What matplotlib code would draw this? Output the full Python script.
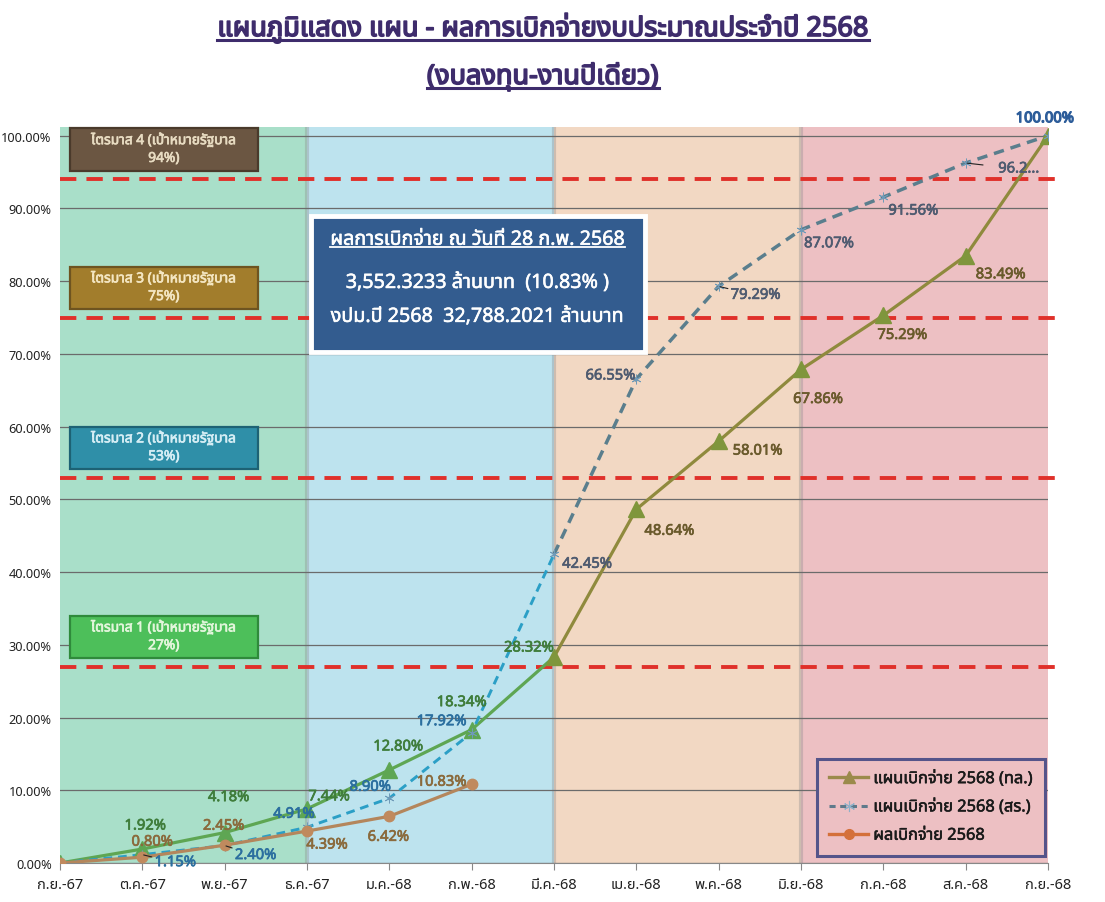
import matplotlib
matplotlib.use("Agg")
import matplotlib.pyplot as plt
import matplotlib.transforms as mtrans
import matplotlib.patheffects as pe
from matplotlib import font_manager as fm
from matplotlib.patches import Rectangle
from matplotlib.lines import Line2D

# ---------------- data ----------------
months = ["ก.ย.-67", "ต.ค.-67", "พ.ย.-67", "ธ.ค.-67", "ม.ค.-68", "ก.พ.-68", "มี.ค.-68",
          "เม.ย.-68", "พ.ค.-68", "มิ.ย.-68", "ก.ค.-68", "ส.ค.-68", "ก.ย.-68"]
plan_tl = [0.00, 1.92, 4.18, 7.44, 12.80, 18.34, 28.32, 48.64, 58.01, 67.86, 75.29, 83.49, 100.00]
plan_sr = [0.00, 1.15, 2.40, 4.91, 8.90, 17.92, 42.45, 66.55, 79.29, 87.07, 91.56, 96.25, 100.00]
actual = [0.00, 0.80, 2.45, 4.39, 6.42, 10.83]
series_names = ["แผนเบิกจ่าย 2568 (ทล.)", "แผนเบิกจ่าย 2568 (สร.)", "ผลเบิกจ่าย 2568"]
quarter_targets = [27, 53, 75, 94]
quarter_names = ["ไตรมาส 1 (เป้าหมายรัฐบาล\n27%)", "ไตรมาส 2 (เป้าหมายรัฐบาล\n53%)",
                 "ไตรมาส 3 (เป้าหมายรัฐบาล\n75%)", "ไตรมาส 4 (เป้าหมายรัฐบาล\n94%)"]
title_lines = ["แผนภูมิแสดง แผน - ผลการเบิกจ่ายงบประมาณประจำปี 2568", "(งบลงทุน-งานปีเดียว)"]
info_lines = ["ผลการเบิกจ่าย ณ วันที่ 28 ก.พ. 2568",
              "3,552.3233 ล้านบาท  (10.83% )",
              "งปม.ปี 2568  32,788.2021 ล้านบาท"]
yticks = [0, 10, 20, 30, 40, 50, 60, 70, 80, 90, 100]

# ---------------- font with Thai glyphs ----------------
def find_thai_font():
    try:
        from fontTools.ttLib import TTFont
    except Exception:
        return None
    prefs = ["Tahoma", "Leelawadee UI", "Leelawadee", "Noto Sans Thai", "Noto Sans Thai UI",
             "Noto Sans Thai Looped", "Sarabun", "Loma", "Garuda", "Waree", "Tlwg Typo", "Umpush",
             "Kinnari", "Norasi", "Sawasdee", "Laksaman", "FreeSans", "Arial Unicode MS"]
    found = {}
    for f in fm.fontManager.ttflist:
        if f.name in found:
            continue
        try:
            tt = TTFont(f.fname, fontNumber=0, lazy=True)
            cmap = tt.getBestCmap()
            if cmap and 0x0E01 in cmap and 0x0E48 in cmap:
                found[f.name] = f.fname
        except Exception:
            pass
    for p in prefs:
        if p in found:
            return p
    if found:
        return sorted(found)[0]
    return None

thai = find_thai_font()
fam = [thai, "DejaVu Sans"] if thai else ["DejaVu Sans"]
plt.rcParams["font.family"] = fam

def thick(col, w=0.6):
    return [pe.withStroke(linewidth=w, foreground=col)]

W, H = 1105, 903
fig = plt.figure(figsize=(W / 100, H / 100), dpi=100)
ax = fig.add_axes([60 / W, 1 - 864 / H, (1048 - 60) / W, (864 - 128) / H])

n = len(months)
x = list(range(n))
ax.set_xlim(0, n - 1)
ax.set_ylim(0, 101.2)

# quarter bands
band_cols = ["#a9dfc9", "#bde3ee", "#f2d8c3", "#edc0c3"]
for i, c in enumerate(band_cols):
    ax.axvspan(3 * i, 3 * (i + 1), color=c, zorder=0, lw=0)
for b in [3, 6, 9]:
    ax.axvline(b, color="#8a8a8a", alpha=0.35, lw=3, zorder=0.5)

# grid
for t in yticks:
    ax.axhline(t, color="#6b6b6b", lw=0.9, zorder=1)
ax.set_yticks(yticks)
ax.set_yticklabels([f"{t:.2f}%" for t in yticks], fontsize=9.2, color="#222222")
ax.set_xticks(x)
ax.set_xticklabels(months, fontsize=10.5, color="#222222")
ax.tick_params(axis="y", length=0, pad=6)
ax.tick_params(axis="x", length=5, color="#888888", direction="out", pad=5)
for s in ["top", "right", "left"]:
    ax.spines[s].set_visible(False)
ax.spines["bottom"].set_color("#888888")

# target lines
for t in quarter_targets:
    ax.plot([0, n - 1 + 0.15], [t, t], color="#e0302a", lw=2.8, ls=(0, (4.2, 2.6)),
            zorder=2, clip_on=False)

# series 1 (ทล.)
g1, o1 = "#5ea653", "#8f8a3d"
ax.plot(x[:7], plan_tl[:7], color=g1, lw=2.3, zorder=4)
ax.plot(x[6:], plan_tl[6:], color=o1, lw=2.3, zorder=4)
ax.plot(x[:6], plan_tl[:6], ls="none", marker="^", ms=11, color=g1, zorder=5)
ax.plot(x[6:], plan_tl[6:], ls="none", marker="^", ms=11, color="#7f963c", zorder=5)

# series 2 (สร.)
b2, s2 = "#2b9fc6", "#5a7e8d"
ax.plot(x[:7], plan_sr[:7], color=b2, lw=2.1, ls=(0, (3, 2)), zorder=4)
ax.plot(x[6:], plan_sr[6:], color=s2, lw=2.5, ls=(0, (3, 2)), zorder=4)
ax.plot(x, plan_sr, ls="none", marker=(6, 2, 0), ms=7, mew=0.6, color="#6f9ab8", zorder=5)

# series 3 (ผล)
ax.plot(x[:len(actual)], actual, color="#b4865c", lw=2.3, marker="o", ms=7.5,
        mfc="#c08a5e", mec="#c08a5e", zorder=6)

# data labels (offsets in pixels, y up)
def lab(xi, yi, txt, dx, dy, col, leader=False, fs=10.6, big=False):
    ax.annotate(txt, (xi, yi), xytext=(dx, dy), textcoords="offset pixels",
                ha="center", va="center", fontsize=fs, color=col, zorder=8,
                path_effects=thick(col, 0.9 if big else 0.5),
                arrowprops=dict(arrowstyle="-", color="#222222", lw=0.8,
                                shrinkA=9, shrinkB=1) if leader else None)

c1g, c1o = "#3f7d3b", "#6a5a2c"
tl_off = [None, (3, 23), (4, 35), (22, 12), (9, 23), (-10, 27), (-25, 9),
          (33, -22), (39, -10), (17, -30), (19, -20), (35, -19), None]
for i, v in enumerate(plan_tl):
    if tl_off[i] is None:
        continue
    lab(i, v, f"{v:.2f}%", *tl_off[i], c1g if i <= 6 else c1o)

c2b, c2s = "#2b6f9f", "#4f5b70"
sr_off = [None, (33, -8), (31, -10), (-13, 13), (-19, 11), (-30, 11), (33, -10),
          (-26, 3), (37, -9), (28, -14), (30, -14), (53, -6), (-3, 17)]
sr_lead = [False, True, True, False, False, False, False, False, True, False, False, True, False]
for i, v in enumerate(plan_sr):
    if sr_off[i] is None:
        continue
    txt = f"{v:.2f}%" if i != 11 else f"{v:.1f}..."
    col = c2b if i <= 5 else c2s
    if i == 12:
        col = "#2d5d9a"
    lab(i, v, txt, *sr_off[i], col, sr_lead[i], big=(i == 12))

c3 = "#8a6a3c"
ac_off = [None, (10, 15), (-1, 19), (20, -14), (-1, -21), (-30, 2)]
for i, v in enumerate(actual):
    if ac_off[i] is None:
        continue
    lab(i, v, f"{v:.2f}%", *ac_off[i], c3)

# quarter boxes
qface = ["#4dbf5a", "#2f8fa8", "#a27d2c", "#6b5642"]
qedge = ["#2f8a3b", "#1d6274", "#6e5420", "#4a3a2b"]
qtext = ["#e3f6dc", "#d6eef5", "#f4e6c2", "#e8dcc2"]
for t, nm, fc, ec, tc in zip(quarter_targets, quarter_names, qface, qedge, qtext):
    y0 = t + 1.2
    h = 5.8
    ax.add_patch(Rectangle((0.12, y0), 2.28, h, facecolor=fc, edgecolor=ec, lw=1.6,
                           zorder=7, clip_on=False))
    ax.text(1.26, y0 + h / 2, nm, ha="center", va="center", fontsize=9.9, color=tc,
            zorder=8, linespacing=1.25, clip_on=False, path_effects=thick(tc, 0.5))

# info box
shadow = ax.transData + mtrans.ScaledTranslation(2 / 100, -2 / 100, fig.dpi_scale_trans)
ax.add_patch(Rectangle((3.05, 70.3), 4.05, 18.6, facecolor="#a0a0a0", edgecolor="none",
                       zorder=8, alpha=0.5, transform=shadow))
ax.add_patch(Rectangle((3.05, 70.3), 4.05, 18.6, facecolor="#335c8f", edgecolor="white",
                       lw=3.5, zorder=9))
info_y = [85.7, 79.8, 75.1]
info_txt = []
for s, yy in zip(info_lines, info_y):
    info_txt.append(ax.text(5.07, yy, s, ha="center", va="center", fontsize=14.2,
                            color="white", zorder=10, path_effects=thick("white", 0.4)))

# legend
handles = [Line2D([], [], color="#9b8a4b", lw=2.4, marker="^", ms=9),
           Line2D([], [], color="#5f7a8b", lw=2.2, ls=(0, (2, 1.5)), marker=(6, 2, 0), ms=8,
                  mec="#8fb0c8", mew=0.8),
           Line2D([], [], color="#d4703a", lw=2.4, marker="o", ms=7)]
leg = ax.legend(handles, series_names, loc="lower right",
                bbox_to_anchor=(1045 / W, 1 - 857 / H), bbox_transform=fig.transFigure,
                fontsize=11.8, frameon=True, fancybox=False, labelspacing=0.75,
                handlelength=2.4, handletextpad=0.3, borderpad=0.75, borderaxespad=0)
leg.get_frame().set_facecolor("#edc0c3")
leg.get_frame().set_edgecolor("#55548a")
leg.get_frame().set_linewidth(2.2)
leg.get_frame().set_alpha(1)
leg.set_zorder(10)
for t in leg.get_texts():
    t.set_color("#1a1a1a")
    t.set_path_effects(thick("#1a1a1a", 0.4))

# title
tcol = "#3e2c6c"
t1 = fig.text(543 / W, 1 - 29 / H, title_lines[0], ha="center", va="center",
              fontsize=19.5, fontweight="bold", color=tcol, path_effects=thick(tcol, 1.2))
t2 = fig.text(543 / W, 1 - 78 / H, title_lines[1], ha="center", va="center",
              fontsize=19.5, fontweight="bold", color=tcol, path_effects=thick(tcol, 1.2))

fig.canvas.draw()
r = fig.canvas.get_renderer()

def underline(txt, off=2, lw=1.8, color=None):
    bb = txt.get_window_extent(r)
    yv = (bb.y0 + off) / H
    fig.add_artist(Line2D([bb.x0 / W, bb.x1 / W], [yv, yv], color=color or txt.get_color(),
                          lw=lw, transform=fig.transFigure, zorder=20))

underline(t1, off=3, lw=2.2)
underline(t2, off=3, lw=2.2)
underline(info_txt[0], off=3, lw=1.3, color="white")

fig.savefig("out.png", dpi=100, facecolor="white")
